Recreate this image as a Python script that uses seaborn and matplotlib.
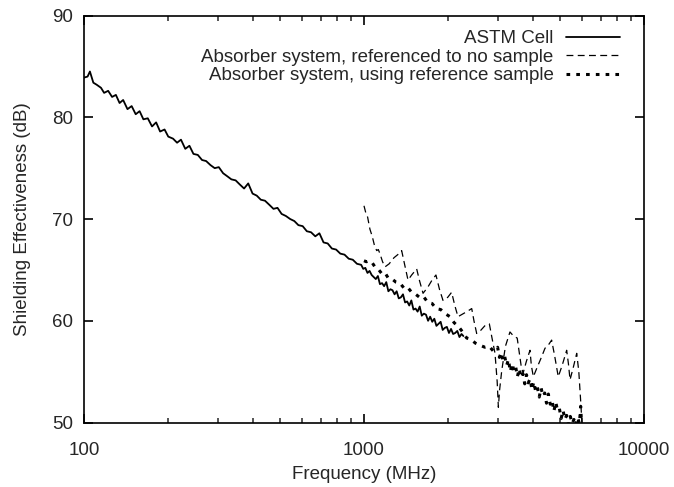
import numpy as np
import pandas as pd
import matplotlib
matplotlib.use("Agg")
import matplotlib.pyplot as plt
import seaborn as sns

# ---- data ----
astm_freq = [100, 103, 105, 108, 111, 115, 118, 122, 126, 130, 134, 138, 143, 148, 153, 158,
             163, 169, 175, 181, 187, 194, 200, 208, 215, 222, 230, 238, 246, 255, 264, 273,
             283, 293, 303, 314, 325, 336, 348, 360, 373, 386, 400, 414, 428, 443, 459, 475,
             491, 508, 526, 545, 564, 583, 604, 625, 647, 670, 693, 717, 742, 768, 795, 823,
             852, 882, 912, 944, 977, 994, 1011, 1029, 1047, 1065, 1083, 1102, 1121, 1140,
             1160, 1180, 1201, 1222, 1243, 1264, 1286, 1308, 1331, 1354, 1378, 1402, 1426,
             1451, 1476, 1502, 1528, 1554, 1581, 1608, 1636, 1665, 1694, 1723, 1753, 1783,
             1814, 1846, 1878, 1910, 1943, 1977, 2011, 2046, 2081, 2117, 2154, 2192, 2230, 2264]
astm_se = [83.9, 84.0, 84.5, 83.4, 83.2, 82.9, 82.4, 82.6, 82.0, 82.2, 81.4, 81.7, 80.8, 81.1,
           80.3, 80.6, 79.8, 79.9, 79.1, 79.5, 78.6, 78.8, 78.1, 77.9, 77.5, 77.8, 76.9, 77.2,
           76.4, 76.3, 75.8, 75.7, 75.3, 75.0, 75.1, 74.5, 74.2, 73.9, 73.8, 73.4, 73.0, 73.5,
           72.5, 72.3, 71.9, 71.8, 71.4, 71.0, 71.1, 70.5, 70.3, 70.0, 69.8, 69.4, 69.3, 68.8,
           68.7, 68.3, 68.6, 67.7, 67.6, 67.1, 67.0, 66.6, 66.5, 66.1, 66.0, 65.6, 65.5, 65.1,
           65.2, 64.7, 64.9, 64.5, 64.3, 64.1, 64.4, 63.6, 63.7, 63.4, 63.8, 62.9, 63.1, 63.0,
           62.6, 62.9, 62.2, 62.3, 62.6, 61.8, 61.9, 61.5, 62.0, 61.1, 61.2, 60.9, 61.4, 60.5,
           60.7, 60.6, 60.0, 60.4, 59.9, 60.2, 59.5, 59.7, 59.9, 59.1, 59.3, 59.4, 58.8, 59.2,
           58.7, 58.8, 59.0, 58.4, 58.7, 58.5]

nosample_freq = [1000, 1015, 1030, 1050, 1070, 1090, 1110, 1125, 1140, 1165, 1189, 1230, 1280,
                 1320, 1363, 1395, 1436, 1480, 1542, 1580, 1625, 1690, 1750, 1807, 1860, 1915,
                 1990, 2056, 2110, 2166, 2230, 2330, 2425, 2470, 2526, 2600, 2700, 2803, 2870,
                 2937, 2990, 3019, 3050, 3104, 3200, 3321, 3420, 3525, 3640, 3700, 3800, 3916,
                 3960, 4025, 4150, 4300, 4430, 4550, 4679, 4800, 4940, 5100, 5294, 5370, 5443,
                 5600, 5750, 5850, 5950, 6000]
nosample_se = [71.3, 70.6, 70.2, 69.0, 68.3, 67.4, 66.9, 67.0, 66.6, 65.8, 65.3, 65.6, 66.2,
               66.5, 66.9, 65.6, 64.0, 64.5, 65.1, 63.9, 62.7, 63.3, 64.0, 64.5, 63.1, 62.0,
               62.3, 62.8, 61.5, 60.4, 60.6, 60.9, 61.2, 60.0, 58.75, 59.0, 59.5, 59.7, 58.2,
               56.8, 54.0, 51.5, 53.2, 55.1, 57.5, 58.9, 58.5, 58.3, 55.6, 54.85, 56.0, 57.1,
               55.6, 54.5, 55.4, 56.4, 57.3, 57.6, 58.1, 56.5, 54.5, 55.6, 57.1, 55.8, 54.2,
               55.5, 56.8, 55.0, 51.8, 50.0]

refsample_freq = [1000, 1020, 1045, 1070, 1100, 1130, 1160, 1190, 1220, 1260, 1300, 1345, 1390,
                  1430, 1480, 1530, 1580, 1630, 1690, 1750, 1810, 1880, 1950, 2028, 2100, 2180,
                  2250, 2327, 2400, 2500, 2594, 2700, 2800, 2900, 3000, 3045, 3090, 3135, 3180,
                  3230, 3280, 3330, 3380, 3430, 3480, 3530, 3585, 3640, 3695, 3750, 3805, 3860,
                  3920, 3980, 4040, 4100, 4160, 4225, 4290, 4355, 4420, 4485, 4555, 4625, 4695,
                  4765, 4840, 4910, 4985, 5060, 5140, 5215, 5295, 5375, 5455, 5540, 5620, 5705,
                  5790, 5880, 5940, 5970, 6000]
refsample_se = [65.9, 65.8, 65.9, 65.7, 65.2, 65.0, 64.6, 64.7, 64.2, 64.1, 63.8, 63.7, 63.2,
                63.3, 62.8, 62.6, 62.3, 62.4, 61.8, 61.7, 61.2, 61.1, 60.7, 60.4, 59.8, 59.4,
                58.9, 58.3, 58.2, 57.8, 57.6, 57.4, 57.5, 57.0, 57.4, 56.4, 56.9, 56.1, 56.5,
                55.6, 56.2, 55.0, 55.8, 55.1, 55.5, 54.5, 55.3, 54.4, 54.8, 53.8, 54.7, 53.9,
                54.3, 53.2, 54.0, 53.1, 53.5, 52.5, 53.4, 52.6, 52.9, 51.9, 52.8, 51.8, 52.2,
                51.1, 52.0, 51.2, 51.4, 50.4, 51.2, 50.3, 50.7, 49.8, 50.6, 49.9, 50.3, 49.7,
                50.5, 49.9, 51.6, 50.4, 49.8]

labels = ["ASTM Cell",
          "Absorber system, referenced to no sample",
          "Absorber system, using reference sample"]

x_ticks = [100, 1000, 10000]
y_ticks = [50, 60, 70, 80, 90]

# ---- style ----
sns.set_theme(style="ticks")
plt.rcParams['font.family'] = ['Liberation Sans', 'DejaVu Sans']
text_col = "#262626"

fig = plt.figure(figsize=(6.74, 4.87), dpi=100)
ax = fig.add_axes([0.1246, 0.1324, 0.8309, 0.8357])

astm_df = pd.DataFrame({"freq": astm_freq, "se": astm_se})
nos_df = pd.DataFrame({"freq": nosample_freq, "se": nosample_se})
ref_df = pd.DataFrame({"freq": refsample_freq, "se": refsample_se})

sns.lineplot(data=astm_df, x="freq", y="se", ax=ax, color="black", linewidth=1.3,
             label=labels[0])
sns.lineplot(data=nos_df, x="freq", y="se", ax=ax, color="black", linewidth=0.9,
             linestyle=(0, (5.5, 3.5)), label=labels[1])
sns.lineplot(data=ref_df, x="freq", y="se", ax=ax, color="black", linewidth=2.2,
             linestyle=(0, (1.2, 2.0)), label=labels[2])

ax.set_xscale("log")
ax.set_xlim(100, 10000)
ax.set_ylim(50, 90)
ax.set_xticks(x_ticks)
ax.set_xticklabels([str(t) for t in x_ticks])
ax.xaxis.set_minor_locator(matplotlib.ticker.LogLocator(base=10, subs=np.arange(2, 10)))
ax.xaxis.set_minor_formatter(matplotlib.ticker.NullFormatter())
ax.set_yticks(y_ticks)

for s in ax.spines.values():
    s.set_color("black")
    s.set_linewidth(1.2)

ax.tick_params(axis="both", which="major", direction="in", length=6.5, width=1.2,
               top=True, right=True, labelsize=13.5, colors="black", labelcolor=text_col)
ax.tick_params(axis="x", which="major", pad=14)
ax.tick_params(axis="y", which="major", pad=8)
ax.tick_params(axis="x", which="minor", direction="in", length=3.6, width=1.1,
               top=True, bottom=True)

ax.set_xlabel("Frequency (MHz)", fontsize=13.5, color=text_col, labelpad=5)
ax.set_ylabel("Shielding Effectiveness (dB)", fontsize=13.5, color=text_col, labelpad=15)

leg = ax.legend(loc="upper right", bbox_to_anchor=(0.971, 0.983), frameon=False,
                markerfirst=False, fontsize=13.5, handlelength=2.9, handletextpad=0.65,
                labelspacing=0.08, borderaxespad=0.0)
for t in leg.get_texts():
    t.set_color(text_col)

fig.savefig("out.png", dpi=100)
